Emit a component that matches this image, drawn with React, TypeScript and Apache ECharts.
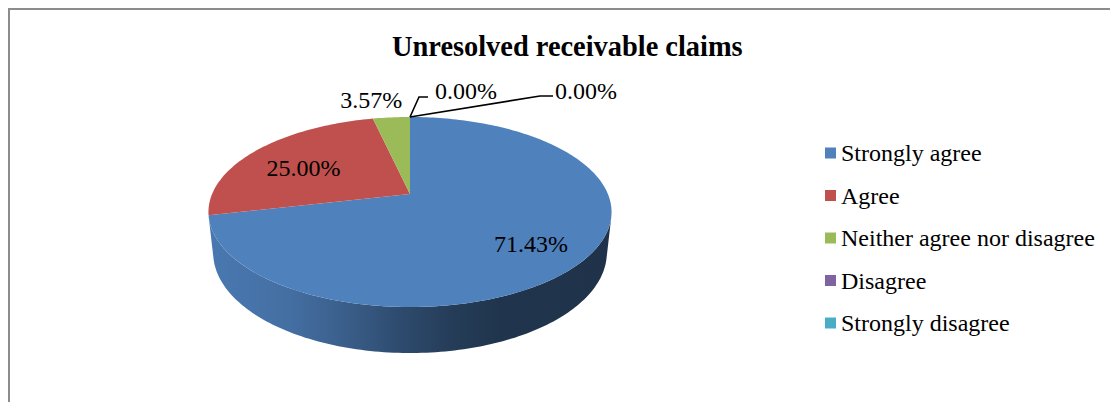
import React, { useEffect, useRef } from "react";
import * as echarts from "echarts";

const categories = ["Strongly agree", "Agree", "Neither agree nor disagree", "Disagree", "Strongly disagree"];
const values = [71.43, 25.0, 3.57, 0.0, 0.0];
const colors = ["#4F81BD", "#C0504D", "#9BBB59", "#8064A2", "#4BACC6"];
const titleText = "Unresolved receivable claims";

// label layout (positions relative to the slice's rim point)
const labelLayout: any[] = [
  { mode: "inside" },
  { mode: "inside" },
  { mode: "outside", dx: 11, dy: -17, align: "right" },
  { mode: "leader", elbow: [9, -20], end: [18, -20], tdx: 25, tdy: -25.5 },
  { mode: "leader", elbow: [130, -21], end: [143, -21], tdx: 145, tdy: -26 },
];

// 3D projection parameters
const CX = 410, CY = 194;
const F = 925.8, D = 4.678, SIN_E = 0.4629, COS_E = 0.8864, DEPTH = 0.2335;
const SERIF = "Liberation Serif";

function proj(u: number, v: number, z: number): number[] {
  const yc = v * SIN_E + z * COS_E;
  const zc = D + v * COS_E - z * SIN_E;
  return [CX + (F * u) / zc, CY - (F * yc) / zc];
}
function rim(phi: number, r: number, z: number) {
  return proj(r * Math.sin(phi), r * Math.cos(phi), z);
}
function shade(hex: string, f: number) {
  const n = parseInt(hex.slice(1), 16);
  const r = Math.round(((n >> 16) & 255) * f);
  const g = Math.round(((n >> 8) & 255) * f);
  const b = Math.round((n & 255) * f);
  return `rgb(${r},${g},${b})`;
}

const VIS = Math.acos(-1 / (D * COS_E)); // visible side range [VIS, 2PI-VIS]

function makeRender(i: number) {
  return (params: any, api: any) => {
    const total = values.reduce((a, b) => a + b, 0);
    let start = 0;
    for (let j = 0; j < i; j++) start += values[j];
    const a1 = (start / total) * Math.PI * 2;
    const a2 = ((start + values[i]) / total) * Math.PI * 2;
    const color = colors[i];
    const children: any[] = [];
    if (values[i] > 0) {
      const s1 = Math.max(a1, VIS), s2 = Math.min(a2, Math.PI * 2 - VIS);
      if (s2 > s1) {
        const pts: number[][] = [];
        const n = Math.max(2, Math.ceil((s2 - s1) / 0.02));
        for (let k = 0; k <= n; k++) pts.push(rim(s1 + ((s2 - s1) * k) / n, 1, 0));
        for (let k = n; k >= 0; k--) pts.push(rim(s1 + ((s2 - s1) * k) / n, 1, -DEPTH));
        const left = rim(Math.PI * 2 - VIS, 1, 0)[0];
        const right = rim(VIS, 1, 0)[0];
        children.push({
          type: "polygon",
          shape: { points: pts },
          style: {
            fill: new echarts.graphic.LinearGradient(left, 0, right, 0, [
              { offset: 0, color: shade(color, 0.93) },
              { offset: 0.2, color: shade(color, 0.86) },
              { offset: 0.35, color: shade(color, 0.72) },
              { offset: 0.474, color: shade(color, 0.58) },
              { offset: 0.6, color: shade(color, 0.47) },
              { offset: 0.72, color: shade(color, 0.41) },
              { offset: 1, color: shade(color, 0.39) },
            ], true),
            stroke: null,
          },
        });
      }
      const top: number[][] = [proj(0, 0, 0)];
      const n = Math.max(2, Math.ceil((a2 - a1) / 0.02));
      for (let k = 0; k <= n; k++) top.push(rim(a1 + ((a2 - a1) * k) / n, 1, 0));
      children.push({ type: "polygon", shape: { points: top }, style: { fill: color, stroke: null } });
    }
    const text = values[i].toFixed(2) + "%";
    const lay = labelLayout[i];
    const mid = (a1 + a2) / 2;
    const font = { fontSize: 24, fontFamily: SERIF, fill: "#000" };
    if (lay.mode === "inside") {
      const p = rim(mid, 0.7, 0);
      children.push({ type: "text", x: p[0] + 3, y: p[1] + 6, z2: 10, style: { text, ...font, align: "center", verticalAlign: "middle" } });
    } else {
      const p = rim(mid, 1, 0);
      if (lay.mode === "outside") {
        children.push({ type: "text", x: p[0] + lay.dx, y: p[1] + lay.dy, z2: 10, style: { text, ...font, align: lay.align, verticalAlign: "middle" } });
      } else {
        children.push({
          type: "polyline",
          z2: 10,
          shape: { points: [p, [p[0] + lay.elbow[0], p[1] + lay.elbow[1]], [p[0] + lay.end[0], p[1] + lay.end[1]]] },
          style: { stroke: "#000", lineWidth: 1.6, fill: null },
        });
        children.push({ type: "text", x: p[0] + lay.tdx, y: p[1] + lay.tdy, z2: 10, style: { text, ...font, align: "left", verticalAlign: "middle" } });
      }
    }
    return { type: "group", children };
  };
}

export default function App() {
  const ref = useRef<HTMLDivElement>(null);
  useEffect(() => {
    if (!ref.current) return;
    const chart = echarts.init(ref.current, null, { renderer: "svg" });
    chart.setOption({
      animation: false,
      color: colors,
      title: {
        text: titleText,
        left: 392,
        top: 32,
        padding: 0,
        textStyle: { fontFamily: SERIF, fontSize: 28.4, fontWeight: "bold", color: "#000" },
      },
      legend: {
        orient: "vertical",
        left: 825,
        top: 141,
        padding: 0,
        icon: "rect",
        itemWidth: 11,
        itemHeight: 11,
        itemGap: 18.5,
        selectedMode: false,
        data: categories,
        textStyle: { fontFamily: SERIF, fontSize: 24, color: "#000", lineHeight: 24 },
      },
      graphic: [
        {
          type: "rect",
          shape: { x: 9, y: 9, width: 1300, height: 600 },
          style: { fill: null, stroke: "#8c8c8c", lineWidth: 2 },
          silent: true,
        },
      ],
      series: categories.map((name, i) => ({
        type: "custom",
        name,
        coordinateSystem: "none",
        silent: true,
        itemStyle: { color: colors[i] },
        data: [[values[i]]],
        renderItem: makeRender(i),
      })),
    });
    return () => chart.dispose();
  }, []);
  return <div ref={ref} style={{ position: "absolute", left: 0, top: 0, width: 1110, height: 402, background: "#fff" }} />;
}
